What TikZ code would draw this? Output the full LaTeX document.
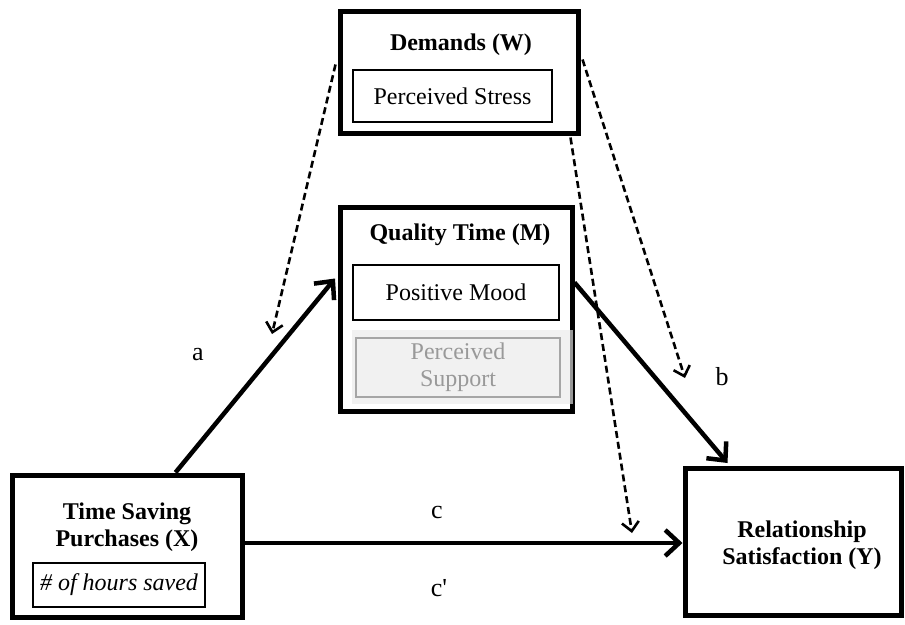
\documentclass[tikz,border=0pt]{standalone}
\usepackage{fontspec}
\setmainfont{Liberation Serif}
\usetikzlibrary{arrows.meta,calc}
\begin{document}
\begin{tikzpicture}[x=1pt,y=-1pt,
  every node/.style={font=\fontsize{24}{27}\selectfont, inner sep=0pt},
  outerbox/.style={draw, line width=5pt, rectangle},
  innerbox/.style={draw, line width=2pt, rectangle},
  boldtext/.style={font=\fontsize{24}{27}\selectfont\bfseries, align=center},
  pathlabel/.style={font=\fontsize{26}{28}\selectfont},
  solidarrow/.style={line width=4.5pt, -{Straight Barb[length=14pt,width=26pt,line width=4.5pt]}},
  dasharrow/.style={line width=2.6pt, dash pattern=on 7pt off 4pt, -{Straight Barb[length=9pt,width=17pt,line width=2.6pt]}}
]
\useasboundingbox (0,0) rectangle (905,624);
\fill[white] (0,0) rectangle (905,624);

% Demands (W)
\node[outerbox, minimum width=238pt, minimum height=122pt] (W) at (459,72) {};
\node[boldtext] (Wt) at (461,45) {Demands (W)};
\node[innerbox, minimum width=199pt, minimum height=52pt] (Ws) at (452.5,96) {Perceived Stress};

% Quality Time (M)
\node[outerbox, minimum width=232pt, minimum height=204pt] (Q) at (456,309) {};
\node[boldtext] (Qt) at (460,235) {Quality Time (M)};
\node[innerbox, minimum width=206pt, minimum height=55pt] (PM) at (456,292.5) {Positive Mood};
\node[fill=black!8, fill opacity=0.65, minimum width=221pt, minimum height=74pt] (PSbg) at (462.5,367) {};
\node[draw=black!35, line width=2pt, text=black!40, align=center, minimum width=204pt, minimum height=59pt] (PS) at (458,367.5) {Perceived\\Support};

% Time Saving Purchases (X)
\node[outerbox, minimum width=230pt, minimum height=142pt] (X) at (127,546) {};
\node[boldtext] (Xt) at (127,527) {Time Saving\\Purchases (X)};
\node[innerbox, minimum width=172pt, minimum height=44pt, font=\fontsize{24}{27}\selectfont\itshape] (H) at (119,585) {\# of hours saved};

% Relationship Satisfaction (Y)
\node[outerbox, minimum width=216pt, minimum height=147pt] (Y) at (793,541.5) {};
\node[boldtext] (Yt) at (802,545) {Relationship\\Satisfaction (Y)};

% solid paths
\coordinate (astart) at ($(X.north west)+(166,0)$);
\coordinate (aend) at ($(Q.north west)+(-2.5,74)$);
\coordinate (bstart) at ($(Q.north east)+(0,78)$);
\coordinate (bend) at ($(Y.north west)+(45,-2.5)$);
\coordinate (cstart) at ($(X.east)+(0,-3)$);
\draw[solidarrow] (astart) -- (aend);
\draw[solidarrow] (bstart) -- (bend);
\draw[solidarrow] (cstart) -- (cstart -| Y.west);

% moderation (dashed)
\coordinate (d1start) at ($(W.north west)+(-2,56)$);
\coordinate (d2start) at ($(W.north east)+(2,51)$);
\coordinate (d3start) at ($(W.south east)+(-10,2)$);
\coordinate (d1end) at (272,334);
\coordinate (d2end) at (685,378);
\coordinate (d3end) at (632,533);
\draw[dasharrow] (d1start) -- (d1end);
\draw[dasharrow] (d2start) -- (d2end);
\draw[dasharrow] (d3start) -- (d3end);

% path labels
\node[pathlabel] (la) at (198,355) {a};
\node[pathlabel] (lb) at (722,377) {b};
\node[pathlabel] (lc) at (437,512) {c};
\node[pathlabel] (lcp) at (439,588) {c\textquotesingle};
\end{tikzpicture}
\end{document}
